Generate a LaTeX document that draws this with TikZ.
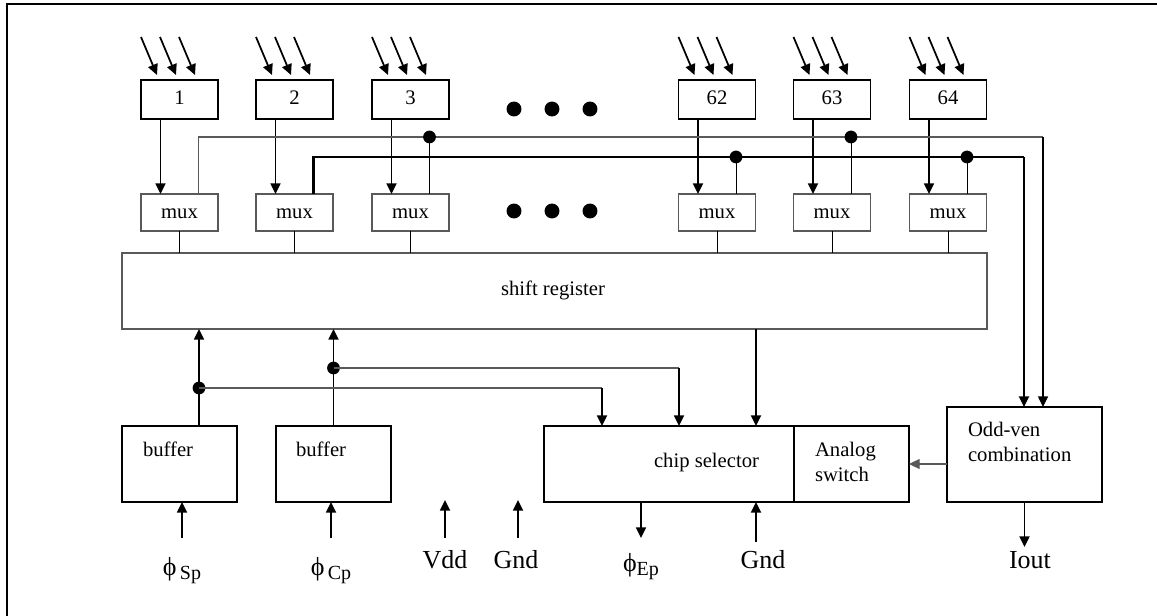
\documentclass[tikz,border=0pt]{standalone}
\usepackage{fontspec}
\setmainfont{Liberation Serif}
\usetikzlibrary{calc,arrows.meta}
\definecolor{lg}{gray}{0.35}
\begin{document}
\begin{tikzpicture}[x=0.75pt,y=-0.75pt,
  every node/.style={inner sep=0pt, outer sep=0pt},
  small/.style={font=\fontsize{15.5}{18.75}\selectfont},
  big/.style={font=\fontsize{19.5}{23}\selectfont},
  pbox/.style={draw=black, line width=1.4pt, minimum width=57.75pt, minimum height=29.25pt},
  mbox/.style={draw=lg, line width=0.8pt, minimum width=57.75pt, minimum height=27.75pt},
  bbox/.style={draw=black, line width=1.4pt, minimum width=86.25pt, minimum height=57pt},
  tip/.style={-{Triangle[length=8pt,width=7.5pt]}},
  arr/.style={line width=1.3pt, tip},
  ray/.style={line width=1.3pt, tip},
  thinl/.style={draw=black, line width=0.7pt},
  grayl/.style={draw=lg, line width=0.9pt},
  thickl/.style={draw=black, line width=1.6pt},
  jdot/.style={fill=black}
]
\useasboundingbox (0,0) rectangle (1157,616);
\draw[line width=1.5pt] (7,616) -- (7,4) -- (1157,4);

% shift register
\node[draw=lg, line width=0.8pt, minimum width=648.75pt, minimum height=57pt] (sr) at (554.5,291) {};
\node[small, anchor=base] (srt) at (553,296) {shift register};

% photo boxes, muxes
\foreach \n/\x in {1/179.5,2/294.5,3/410.5,62/717,63/832,64/948} {
  \node[pbox, small] (p\n) at (\x,99.5) {};
  \node[small, anchor=base] (pt\n) at (\x,105) {\n};
  \foreach \dx in {-22.5,-3.5,15.5}
    \draw[ray] ($(p\n.north)+({\dx-16},-43)$) -- ($(p\n.north)+(\dx,-5)$);
  \node[mbox] (m\n) at (\x,212.5) {};
  \node[small, anchor=base] (mt\n) at (\x,219) {mux};
  \draw[arr] ($(p\n.south)+(-19,0)$) -- ($(m\n.north)+(-19,0)$);
  \draw[thinl] (m\n.south) -- (m\n.south |- sr.north);
}

% ellipsis dots
\foreach \x in {514,552,590} {
  \fill (\x,109) circle[radius=5.6pt];
  \fill (\x,211) circle[radius=5.6pt];
}

% odd-even combination box
\node[draw=black, line width=1.4pt, minimum width=116.25pt, minimum height=71.25pt] (oe) at (1024.5,454.5) {};
\node[small, anchor=west, align=left] (oet) at (968,442) {Odd-ven\\combination};

% buses
\coordinate (gc) at (1043,137);
\coordinate (tc) at (1024,157);
\coordinate (gb) at (1043,407);
\coordinate (tb) at (1024,407);
\draw[grayl] ($(m1.north)+(19,0)$) |- (gc);
\draw[arr, line width=1.1pt] (gc) -- (gb);
\draw[thickl] ($(m2.north)+(19,0)$) |- (tc);
\draw[arr, line width=1.4pt] (tc) -- (tb);
\foreach \n/\b in {3/gc,63/gc,62/tc,64/tc} {
  \coordinate (t\n) at ($(m\n.north)+(19,0)$);
  \draw[thinl] (t\n) -- (t\n |- \b);
  \fill[jdot] (t\n |- \b) circle[radius=4.8pt];
}

% buffers
\node[bbox] (b1) at (179.5,464) {};
\node[bbox] (b2) at (333.5,464) {};
\node[small, anchor=base west] (b1t) at (143,457) {buffer};
\node[small, anchor=base west] (b2t) at (296,457) {buffer};

% chip selector and analog switch
\node[draw=black, line width=0.8pt, minimum width=187.5pt, minimum height=57pt] (cs) at (669,464) {};
\node[small, anchor=base west] (cst) at (654,468) {chip selector};
\node[bbox] (an) at (851.5,464) {};
\node[small, anchor=west, align=left] (ant) at (815,462) {Analog\\switch};

% buffer outputs
\coordinate (o1) at ($(b1.north)+(19.5,0)$);
\coordinate (o2) at (b2.north);
\draw[arr] (o1) -- (o1 |- sr.south);
\draw[arr] (o2) -- (o2 |- sr.south);
\coordinate (d1) at ($(o1)+(0,-38)$);
\coordinate (d2) at ($(o2)+(0,-58)$);
\fill[jdot] (d1) circle[radius=4.8pt];
\fill[jdot] (d2) circle[radius=4.8pt];
\coordinate (cs1) at ($(cs.north west)+(58,0)$);
\coordinate (cs2) at ($(cs.north west)+(135,0)$);
\coordinate (cs3) at ($(cs.north west)+(212,0)$);
\draw[grayl] (d1) -- (d1 -| cs1);
\draw[arr] (d1 -| cs1) -- (cs1);
\draw[grayl] (d2) -- (d2 -| cs2);
\draw[arr] (d2 -| cs2) -- (cs2);
\draw[arr] (cs3 |- sr.south) -- (cs3);

% odd-even to analog switch
\draw[grayl, tip] (oe.west |- an.east) -- (an.east);

% bottom inputs/outputs
\coordinate (inS) at (182,538);
\draw[arr] (inS) -- (inS |- b1.south);
\node[anchor=base] (lS) at (182,575) {{\fontsize{19.5}{23}\selectfont ϕ} \raisebox{-3pt}{\fontsize{15}{16}\selectfont Sp}};
\coordinate (inC) at (331,538);
\draw[arr] (inC) -- (inC |- b2.south);
\node[anchor=base] (lC) at (331,575) {{\fontsize{19.5}{23}\selectfont ϕ} \raisebox{-3pt}{\fontsize{15}{16}\selectfont Cp}};

\coordinate (vdd0) at (445,538);
\coordinate (vdd1) at (445,500);
\draw[arr] (vdd0) -- (vdd1);
\node[big, anchor=base] (lV) at (445,568) {Vdd};
\coordinate (gnd0) at (518,538);
\coordinate (gnd1) at (518,500);
\draw[arr] (gnd0) -- (gnd1);
\node[big, anchor=base] (lG) at (516,568) {Gnd};

\coordinate (ep0) at ($(cs.south west)+(97,0)$);
\coordinate (ep1) at ($(ep0)+(0,36)$);
\draw[arr] (ep0) -- (ep1);
\node[anchor=base] (lE) at (641,571) {{\fontsize{19.5}{23}\selectfont ϕ}\raisebox{-3pt}{\fontsize{15}{16}\selectfont Ep}};

\coordinate (gn2) at ($(cs.south west)+(212,40)$);
\draw[arr] (gn2) -- (gn2 |- cs.south);
\node[big, anchor=base] (lG2) at (763,568) {Gnd};

\draw[arr] (oe.south) -- ++(0,45) coordinate (io);
\node[big, anchor=base] (lI) at (1030,568) {Iout};
\end{tikzpicture}
\end{document}
